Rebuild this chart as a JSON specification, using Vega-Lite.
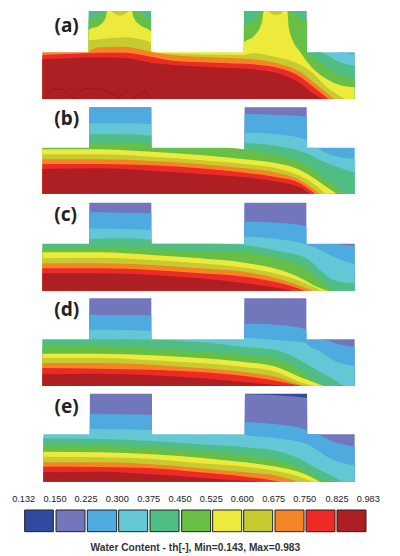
{"$schema":"https://vega.github.io/schema/vega-lite/v6.json","background":"white","padding":0,"spacing":0,"bounds":"flush","config":{"view":{"stroke":null},"area":{"interpolate":"monotone"}},
"datasets":{
"a":[
{"band":"0.225","x":1018,"y":157},{"band":"0.225","x":1064,"y":157},
{"band":"0.300","x":945,"y":157},{"band":"0.300","x":1018,"y":157},{"band":"0.300","x":1040,"y":160},{"band":"0.300","x":1064,"y":165},
{"band":"0.375","x":265,"y":297},{"band":"0.375","x":266,"y":33},{"band":"0.375","x":453,"y":33},{"band":"0.375","x":454,"y":297},{"band":"0.375","x":731,"y":297},{"band":"0.375","x":732,"y":33},{"band":"0.375","x":920,"y":33},{"band":"0.375","x":921,"y":157},{"band":"0.375","x":960,"y":157},{"band":"0.375","x":985,"y":168},{"band":"0.375","x":1020,"y":187},{"band":"0.375","x":1064,"y":197},
{"band":"0.450","x":265,"y":297},{"band":"0.450","x":266,"y":60},{"band":"0.450","x":295,"y":52},{"band":"0.450","x":312,"y":38},{"band":"0.450","x":318,"y":33},{"band":"0.450","x":412,"y":33},{"band":"0.450","x":430,"y":50},{"band":"0.450","x":453,"y":62},{"band":"0.450","x":454,"y":297},{"band":"0.450","x":731,"y":297},{"band":"0.450","x":732,"y":72},{"band":"0.450","x":755,"y":65},{"band":"0.450","x":775,"y":45},{"band":"0.450","x":778,"y":33},{"band":"0.450","x":868,"y":33},{"band":"0.450","x":885,"y":45},{"band":"0.450","x":905,"y":58},{"band":"0.450","x":920,"y":60},{"band":"0.450","x":921,"y":157},{"band":"0.450","x":945,"y":175},{"band":"0.450","x":985,"y":205},{"band":"0.450","x":1020,"y":225},{"band":"0.450","x":1064,"y":232},
{"band":"0.525","x":265,"y":297},{"band":"0.525","x":266,"y":90},{"band":"0.525","x":300,"y":75},{"band":"0.525","x":318,"y":50},{"band":"0.525","x":322,"y":33},{"band":"0.525","x":396,"y":33},{"band":"0.525","x":400,"y":50},{"band":"0.525","x":420,"y":75},{"band":"0.525","x":453,"y":95},{"band":"0.525","x":454,"y":157},{"band":"0.525","x":731,"y":157},{"band":"0.525","x":732,"y":127},{"band":"0.525","x":760,"y":110},{"band":"0.525","x":785,"y":70},{"band":"0.525","x":792,"y":33},{"band":"0.525","x":862,"y":33},{"band":"0.525","x":866,"y":80},{"band":"0.525","x":880,"y":125},{"band":"0.525","x":900,"y":155},{"band":"0.525","x":921,"y":185},{"band":"0.525","x":985,"y":240},{"band":"0.525","x":1020,"y":255},{"band":"0.525","x":1064,"y":262},
{"band":"0.600","x":265,"y":297},{"band":"0.600","x":266,"y":122},{"band":"0.600","x":300,"y":118},{"band":"0.600","x":375,"y":112},{"band":"0.600","x":420,"y":118},{"band":"0.600","x":453,"y":128},{"band":"0.600","x":454,"y":158},{"band":"0.600","x":560,"y":162},{"band":"0.600","x":732,"y":165},{"band":"0.600","x":760,"y":160},{"band":"0.600","x":830,"y":172},{"band":"0.600","x":880,"y":185},{"band":"0.600","x":930,"y":212},{"band":"0.600","x":985,"y":265},{"band":"0.600","x":1035,"y":297},
{"band":"0.675","x":127,"y":157},{"band":"0.675","x":265,"y":157},{"band":"0.675","x":266,"y":155},{"band":"0.675","x":300,"y":142},{"band":"0.675","x":375,"y":140},{"band":"0.675","x":420,"y":148},{"band":"0.675","x":453,"y":155},{"band":"0.675","x":520,"y":165},{"band":"0.675","x":640,"y":172},{"band":"0.675","x":760,"y":178},{"band":"0.675","x":850,"y":195},{"band":"0.675","x":900,"y":215},{"band":"0.675","x":950,"y":255},{"band":"0.675","x":1003,"y":297},
{"band":"0.750","x":127,"y":165},{"band":"0.750","x":200,"y":162},{"band":"0.750","x":300,"y":158},{"band":"0.750","x":375,"y":158},{"band":"0.750","x":453,"y":170},{"band":"0.750","x":520,"y":182},{"band":"0.750","x":640,"y":188},{"band":"0.750","x":760,"y":193},{"band":"0.750","x":850,"y":208},{"band":"0.750","x":900,"y":230},{"band":"0.750","x":945,"y":265},{"band":"0.750","x":985,"y":297},
{"band":"0.825","x":127,"y":178},{"band":"0.825","x":200,"y":175},{"band":"0.825","x":300,"y":172},{"band":"0.825","x":375,"y":174},{"band":"0.825","x":453,"y":188},{"band":"0.825","x":520,"y":195},{"band":"0.825","x":640,"y":202},{"band":"0.825","x":760,"y":208},{"band":"0.825","x":850,"y":225},{"band":"0.825","x":900,"y":250},{"band":"0.825","x":945,"y":285},{"band":"0.825","x":970,"y":297}
],
"b":[
{"band":"0.150","x":267,"y":281},{"band":"0.150","x":268,"y":22},{"band":"0.150","x":454,"y":22},{"band":"0.150","x":455,"y":281},{"band":"0.150","x":733,"y":281},{"band":"0.150","x":734,"y":22},{"band":"0.150","x":920,"y":22},{"band":"0.150","x":921,"y":281},
{"band":"0.225","x":267,"y":281},{"band":"0.225","x":268,"y":25},{"band":"0.225","x":454,"y":25},{"band":"0.225","x":455,"y":281},{"band":"0.225","x":733,"y":281},{"band":"0.225","x":734,"y":42},{"band":"0.225","x":830,"y":45},{"band":"0.225","x":920,"y":50},{"band":"0.225","x":921,"y":143},{"band":"0.225","x":1064,"y":143},
{"band":"0.300","x":267,"y":281},{"band":"0.300","x":268,"y":70},{"band":"0.300","x":360,"y":70},{"band":"0.300","x":454,"y":72},{"band":"0.300","x":455,"y":281},{"band":"0.300","x":733,"y":281},{"band":"0.300","x":734,"y":98},{"band":"0.300","x":830,"y":103},{"band":"0.300","x":920,"y":120},{"band":"0.300","x":921,"y":143},{"band":"0.300","x":945,"y":143},{"band":"0.300","x":980,"y":160},{"band":"0.300","x":1020,"y":172},{"band":"0.300","x":1064,"y":177},
{"band":"0.375","x":267,"y":281},{"band":"0.375","x":268,"y":103},{"band":"0.375","x":360,"y":103},{"band":"0.375","x":454,"y":107},{"band":"0.375","x":455,"y":281},{"band":"0.375","x":733,"y":281},{"band":"0.375","x":734,"y":130},{"band":"0.375","x":830,"y":138},{"band":"0.375","x":920,"y":160},{"band":"0.375","x":960,"y":180},{"band":"0.375","x":1064,"y":218},
{"band":"0.450","x":127,"y":143},{"band":"0.450","x":267,"y":143},{"band":"0.450","x":268,"y":128},{"band":"0.450","x":360,"y":128},{"band":"0.450","x":454,"y":135},{"band":"0.450","x":455,"y":143},{"band":"0.450","x":680,"y":143},{"band":"0.450","x":733,"y":148},{"band":"0.450","x":830,"y":165},{"band":"0.450","x":920,"y":195},{"band":"0.450","x":960,"y":225},{"band":"0.450","x":1000,"y":255},{"band":"0.450","x":1035,"y":281},
{"band":"0.525","x":127,"y":148},{"band":"0.525","x":300,"y":148},{"band":"0.525","x":400,"y":152},{"band":"0.525","x":454,"y":155},{"band":"0.525","x":600,"y":165},{"band":"0.525","x":734,"y":178},{"band":"0.525","x":830,"y":190},{"band":"0.525","x":900,"y":210},{"band":"0.525","x":950,"y":240},{"band":"0.525","x":985,"y":265},{"band":"0.525","x":1010,"y":281},
{"band":"0.600","x":127,"y":163},{"band":"0.600","x":300,"y":163},{"band":"0.600","x":454,"y":170},{"band":"0.600","x":600,"y":180},{"band":"0.600","x":734,"y":192},{"band":"0.600","x":830,"y":205},{"band":"0.600","x":900,"y":228},{"band":"0.600","x":950,"y":258},{"band":"0.600","x":975,"y":281},
{"band":"0.675","x":127,"y":178},{"band":"0.675","x":300,"y":178},{"band":"0.675","x":454,"y":183},{"band":"0.675","x":600,"y":192},{"band":"0.675","x":734,"y":205},{"band":"0.675","x":830,"y":218},{"band":"0.675","x":900,"y":240},{"band":"0.675","x":945,"y":270},{"band":"0.675","x":960,"y":281},
{"band":"0.750","x":127,"y":192},{"band":"0.750","x":300,"y":192},{"band":"0.750","x":454,"y":196},{"band":"0.750","x":600,"y":205},{"band":"0.750","x":734,"y":218},{"band":"0.750","x":830,"y":232},{"band":"0.750","x":900,"y":250},{"band":"0.750","x":930,"y":270},{"band":"0.750","x":945,"y":281},
{"band":"0.825","x":127,"y":207},{"band":"0.825","x":300,"y":205},{"band":"0.825","x":454,"y":212},{"band":"0.825","x":600,"y":222},{"band":"0.825","x":734,"y":232},{"band":"0.825","x":830,"y":245},{"band":"0.825","x":900,"y":262},{"band":"0.825","x":930,"y":281}
],
"c":[
{"band":"0.150","x":267,"y":287},{"band":"0.150","x":268,"y":23},{"band":"0.150","x":454,"y":23},{"band":"0.150","x":455,"y":287},{"band":"0.150","x":732,"y":287},{"band":"0.150","x":733,"y":23},{"band":"0.150","x":919,"y":23},{"band":"0.150","x":920,"y":287},{"band":"0.150","x":1004,"y":287},{"band":"0.150","x":1005,"y":146},{"band":"0.150","x":1064,"y":146},
{"band":"0.225","x":267,"y":287},{"band":"0.225","x":268,"y":52},{"band":"0.225","x":360,"y":53},{"band":"0.225","x":454,"y":55},{"band":"0.225","x":455,"y":287},{"band":"0.225","x":732,"y":287},{"band":"0.225","x":733,"y":80},{"band":"0.225","x":830,"y":83},{"band":"0.225","x":919,"y":93},{"band":"0.225","x":920,"y":146},{"band":"0.225","x":1005,"y":146},{"band":"0.225","x":1030,"y":150},{"band":"0.225","x":1064,"y":153},
{"band":"0.300","x":267,"y":287},{"band":"0.300","x":268,"y":100},{"band":"0.300","x":360,"y":102},{"band":"0.300","x":454,"y":105},{"band":"0.300","x":455,"y":146},{"band":"0.300","x":732,"y":146},{"band":"0.300","x":733,"y":125},{"band":"0.300","x":830,"y":132},{"band":"0.300","x":919,"y":148},{"band":"0.300","x":960,"y":165},{"band":"0.300","x":1010,"y":190},{"band":"0.300","x":1064,"y":208},
{"band":"0.375","x":127,"y":146},{"band":"0.375","x":267,"y":146},{"band":"0.375","x":268,"y":132},{"band":"0.375","x":360,"y":130},{"band":"0.375","x":454,"y":134},{"band":"0.375","x":455,"y":146},{"band":"0.375","x":640,"y":146},{"band":"0.375","x":733,"y":150},{"band":"0.375","x":830,"y":167},{"band":"0.375","x":919,"y":190},{"band":"0.375","x":1000,"y":255},{"band":"0.375","x":1064,"y":265},
{"band":"0.450","x":127,"y":158},{"band":"0.450","x":300,"y":158},{"band":"0.450","x":454,"y":160},{"band":"0.450","x":600,"y":172},{"band":"0.450","x":733,"y":172},{"band":"0.450","x":830,"y":190},{"band":"0.450","x":919,"y":222},{"band":"0.450","x":960,"y":255},{"band":"0.450","x":1005,"y":287},
{"band":"0.525","x":127,"y":172},{"band":"0.525","x":300,"y":172},{"band":"0.525","x":454,"y":180},{"band":"0.525","x":600,"y":190},{"band":"0.525","x":733,"y":203},{"band":"0.525","x":830,"y":222},{"band":"0.525","x":900,"y":248},{"band":"0.525","x":950,"y":275},{"band":"0.525","x":985,"y":287},
{"band":"0.600","x":127,"y":190},{"band":"0.600","x":300,"y":188},{"band":"0.600","x":454,"y":195},{"band":"0.600","x":600,"y":205},{"band":"0.600","x":733,"y":218},{"band":"0.600","x":830,"y":236},{"band":"0.600","x":900,"y":258},{"band":"0.600","x":965,"y":287},
{"band":"0.675","x":127,"y":205},{"band":"0.675","x":300,"y":205},{"band":"0.675","x":454,"y":210},{"band":"0.675","x":600,"y":220},{"band":"0.675","x":733,"y":230},{"band":"0.675","x":830,"y":250},{"band":"0.675","x":900,"y":272},{"band":"0.675","x":940,"y":287},
{"band":"0.750","x":127,"y":220},{"band":"0.750","x":300,"y":220},{"band":"0.750","x":454,"y":225},{"band":"0.750","x":600,"y":235},{"band":"0.750","x":733,"y":245},{"band":"0.750","x":830,"y":262},{"band":"0.750","x":915,"y":287},
{"band":"0.825","x":127,"y":235},{"band":"0.825","x":300,"y":235},{"band":"0.825","x":454,"y":240},{"band":"0.825","x":600,"y":250},{"band":"0.825","x":733,"y":265},{"band":"0.825","x":830,"y":278},{"band":"0.825","x":880,"y":287}
],
"d":[
{"band":"0.150","x":267,"y":282},{"band":"0.150","x":268,"y":19},{"band":"0.150","x":454,"y":19},{"band":"0.150","x":455,"y":282},{"band":"0.150","x":732,"y":282},{"band":"0.150","x":733,"y":19},{"band":"0.150","x":919,"y":19},{"band":"0.150","x":920,"y":282},{"band":"0.150","x":969,"y":282},{"band":"0.150","x":970,"y":142},{"band":"0.150","x":1064,"y":142},
{"band":"0.225","x":267,"y":282},{"band":"0.225","x":268,"y":68},{"band":"0.225","x":360,"y":69},{"band":"0.225","x":454,"y":70},{"band":"0.225","x":455,"y":282},{"band":"0.225","x":732,"y":282},{"band":"0.225","x":733,"y":95},{"band":"0.225","x":830,"y":98},{"band":"0.225","x":919,"y":112},{"band":"0.225","x":920,"y":142},{"band":"0.225","x":970,"y":142},{"band":"0.225","x":1010,"y":155},{"band":"0.225","x":1064,"y":165},
{"band":"0.300","x":267,"y":282},{"band":"0.300","x":268,"y":113},{"band":"0.300","x":360,"y":114},{"band":"0.300","x":454,"y":117},{"band":"0.300","x":455,"y":142},{"band":"0.300","x":732,"y":142},{"band":"0.300","x":733,"y":138},{"band":"0.300","x":830,"y":145},{"band":"0.300","x":919,"y":152},{"band":"0.300","x":920,"y":155},{"band":"0.300","x":960,"y":178},{"band":"0.300","x":1000,"y":205},{"band":"0.300","x":1064,"y":222},
{"band":"0.375","x":127,"y":142},{"band":"0.375","x":267,"y":142},{"band":"0.375","x":454,"y":143},{"band":"0.375","x":600,"y":150},{"band":"0.375","x":733,"y":165},{"band":"0.375","x":830,"y":175},{"band":"0.375","x":900,"y":205},{"band":"0.375","x":960,"y":240},{"band":"0.375","x":1000,"y":262},{"band":"0.375","x":1030,"y":282},
{"band":"0.450","x":127,"y":163},{"band":"0.450","x":300,"y":163},{"band":"0.450","x":454,"y":170},{"band":"0.450","x":600,"y":178},{"band":"0.450","x":733,"y":190},{"band":"0.450","x":830,"y":202},{"band":"0.450","x":900,"y":235},{"band":"0.450","x":950,"y":270},{"band":"0.450","x":990,"y":282},
{"band":"0.525","x":127,"y":185},{"band":"0.525","x":300,"y":185},{"band":"0.525","x":454,"y":190},{"band":"0.525","x":600,"y":198},{"band":"0.525","x":733,"y":210},{"band":"0.525","x":830,"y":225},{"band":"0.525","x":900,"y":255},{"band":"0.525","x":970,"y":282},
{"band":"0.600","x":127,"y":198},{"band":"0.600","x":300,"y":198},{"band":"0.600","x":454,"y":205},{"band":"0.600","x":600,"y":213},{"band":"0.600","x":733,"y":225},{"band":"0.600","x":830,"y":240},{"band":"0.600","x":900,"y":270},{"band":"0.600","x":945,"y":282},
{"band":"0.675","x":127,"y":213},{"band":"0.675","x":300,"y":213},{"band":"0.675","x":454,"y":218},{"band":"0.675","x":600,"y":228},{"band":"0.675","x":733,"y":240},{"band":"0.675","x":830,"y":255},{"band":"0.675","x":900,"y":278},{"band":"0.675","x":925,"y":282},
{"band":"0.750","x":127,"y":228},{"band":"0.750","x":300,"y":230},{"band":"0.750","x":454,"y":233},{"band":"0.750","x":600,"y":240},{"band":"0.750","x":733,"y":252},{"band":"0.750","x":830,"y":267},{"band":"0.750","x":905,"y":282},
{"band":"0.825","x":127,"y":247},{"band":"0.825","x":300,"y":245},{"band":"0.825","x":454,"y":250},{"band":"0.825","x":600,"y":258},{"band":"0.825","x":733,"y":270},{"band":"0.825","x":860,"y":282}
],
"e":[
{"band":"0.132","x":734,"y":290},{"band":"0.132","x":735,"y":26},{"band":"0.132","x":921,"y":26},{"band":"0.132","x":922,"y":290},
{"band":"0.150","x":269,"y":290},{"band":"0.150","x":270,"y":26},{"band":"0.150","x":456,"y":26},{"band":"0.150","x":457,"y":290},{"band":"0.150","x":734,"y":290},{"band":"0.150","x":735,"y":28},{"band":"0.150","x":921,"y":38},{"band":"0.150","x":922,"y":148},{"band":"0.150","x":1064,"y":148},
{"band":"0.225","x":269,"y":290},{"band":"0.225","x":270,"y":87},{"band":"0.225","x":456,"y":89},{"band":"0.225","x":457,"y":290},{"band":"0.225","x":734,"y":290},{"band":"0.225","x":735,"y":112},{"band":"0.225","x":830,"y":118},{"band":"0.225","x":921,"y":135},{"band":"0.225","x":922,"y":148},{"band":"0.225","x":945,"y":148},{"band":"0.225","x":1000,"y":170},{"band":"0.225","x":1064,"y":185},
{"band":"0.300","x":130,"y":148},{"band":"0.300","x":269,"y":148},{"band":"0.300","x":270,"y":132},{"band":"0.300","x":456,"y":135},{"band":"0.300","x":457,"y":148},{"band":"0.300","x":734,"y":148},{"band":"0.300","x":735,"y":150},{"band":"0.300","x":830,"y":160},{"band":"0.300","x":921,"y":178},{"band":"0.300","x":1000,"y":225},{"band":"0.300","x":1064,"y":242},
{"band":"0.375","x":130,"y":160},{"band":"0.375","x":300,"y":162},{"band":"0.375","x":456,"y":168},{"band":"0.375","x":600,"y":178},{"band":"0.375","x":735,"y":187},{"band":"0.375","x":830,"y":198},{"band":"0.375","x":900,"y":222},{"band":"0.375","x":950,"y":250},{"band":"0.375","x":1000,"y":275},{"band":"0.375","x":1030,"y":290},
{"band":"0.450","x":130,"y":182},{"band":"0.450","x":300,"y":182},{"band":"0.450","x":456,"y":188},{"band":"0.450","x":600,"y":198},{"band":"0.450","x":735,"y":212},{"band":"0.450","x":830,"y":225},{"band":"0.450","x":900,"y":248},{"band":"0.450","x":950,"y":278},{"band":"0.450","x":1000,"y":290},
{"band":"0.525","x":130,"y":200},{"band":"0.525","x":300,"y":202},{"band":"0.525","x":456,"y":208},{"band":"0.525","x":600,"y":218},{"band":"0.525","x":735,"y":232},{"band":"0.525","x":830,"y":245},{"band":"0.525","x":900,"y":262},{"band":"0.525","x":960,"y":290},
{"band":"0.600","x":130,"y":215},{"band":"0.600","x":300,"y":217},{"band":"0.600","x":456,"y":222},{"band":"0.600","x":600,"y":235},{"band":"0.600","x":735,"y":245},{"band":"0.600","x":830,"y":258},{"band":"0.600","x":900,"y":275},{"band":"0.600","x":940,"y":290},
{"band":"0.675","x":130,"y":232},{"band":"0.675","x":300,"y":232},{"band":"0.675","x":456,"y":238},{"band":"0.675","x":600,"y":250},{"band":"0.675","x":735,"y":262},{"band":"0.675","x":830,"y":272},{"band":"0.675","x":895,"y":290},
{"band":"0.750","x":130,"y":245},{"band":"0.750","x":300,"y":246},{"band":"0.750","x":456,"y":250},{"band":"0.750","x":600,"y":262},{"band":"0.750","x":735,"y":275},{"band":"0.750","x":840,"y":290},
{"band":"0.825","x":130,"y":262},{"band":"0.825","x":300,"y":260},{"band":"0.825","x":456,"y":268},{"band":"0.825","x":600,"y":278},{"band":"0.825","x":700,"y":285},{"band":"0.825","x":790,"y":290}
]},
"vconcat":[
{"width":400,"height":100,"layer":[
{"data":{"name":"a"},"mark":{"type":"area","orient":"vertical"},"encoding":{"x":{"field":"x","type":"quantitative","scale":{"domain":[0,1200],"nice":false},"axis":null},"y":{"field":"y","type":"quantitative","scale":{"domain":[300,0],"nice":false,"zero":false},"axis":null},"y2":{"datum":297},"color":{"field":"band","type":"nominal","legend":null,"scale":{"domain":["0.132","0.150","0.225","0.300","0.375","0.450","0.525","0.600","0.675","0.750","0.825"],"range":["#2f4a9e","#7276bb","#4faae0","#63c7d6","#4fbd84","#68bf45","#eeea3c","#c6cb32","#f48524","#ed2a26","#ae1f23"]}}}},
{"data":{"values":[{"band":"0.600","x":335,"y":33},{"band":"0.600","x":345,"y":42},{"band":"0.600","x":360,"y":47},{"band":"0.600","x":375,"y":42},{"band":"0.600","x":385,"y":33}]},"mark":{"type":"area","orient":"vertical"},"encoding":{"x":{"field":"x","type":"quantitative"},"y":{"field":"y","type":"quantitative"},"y2":{"datum":33},"color":{"field":"band","type":"nominal"}}},
{"data":{"values":[{"band":"0.600","x":805,"y":33},{"band":"0.600","x":815,"y":42},{"band":"0.600","x":828,"y":45},{"band":"0.600","x":842,"y":42},{"band":"0.600","x":850,"y":33}]},"mark":{"type":"area","orient":"vertical"},"encoding":{"x":{"field":"x","type":"quantitative"},"y":{"field":"y","type":"quantitative"},"y2":{"datum":33},"color":{"field":"band","type":"nominal"}}},
{"data":{"values":[{"x":130,"y":295},{"x":160,"y":268},{"x":190,"y":268},{"x":220,"y":295},{"x":250,"y":265},{"x":310,"y":268},{"x":360,"y":295},{"x":380,"y":270},{"x":405,"y":295},{"x":435,"y":270},{"x":450,"y":295}]},"mark":{"type":"line","color":"#7d1518","strokeWidth":0.6},"encoding":{"x":{"field":"x","type":"quantitative"},"y":{"field":"y","type":"quantitative"}}},
{"data":{"values":[{"label":"(a)","x":200,"y":77}]},"mark":{"type":"text","font":"Noto Sans","fontWeight":"bold","fontSize":19,"color":"#222222"},"encoding":{"x":{"field":"x","type":"quantitative"},"y":{"field":"y","type":"quantitative"},"text":{"field":"label"}}}
]},
{"width":400,"height":95,"layer":[
{"data":{"name":"b"},"mark":{"type":"area","orient":"vertical"},"encoding":{"x":{"field":"x","type":"quantitative","scale":{"domain":[0,1200],"nice":false},"axis":null},"y":{"field":"y","type":"quantitative","scale":{"domain":[285,0],"nice":false,"zero":false},"axis":null},"y2":{"datum":281},"color":{"field":"band","type":"nominal","legend":null,"scale":{"domain":["0.132","0.150","0.225","0.300","0.375","0.450","0.525","0.600","0.675","0.750","0.825"],"range":["#2f4a9e","#7276bb","#4faae0","#63c7d6","#4fbd84","#68bf45","#eeea3c","#c6cb32","#f48524","#ed2a26","#ae1f23"]}}}},
{"data":{"values":[{"label":"(b)","x":200,"y":57}]},"mark":{"type":"text","font":"Noto Sans","fontWeight":"bold","fontSize":19,"color":"#222222"},"encoding":{"x":{"field":"x","type":"quantitative"},"y":{"field":"y","type":"quantitative"},"text":{"field":"label"}}}
]},
{"width":400,"height":97,"layer":[
{"data":{"name":"c"},"mark":{"type":"area","orient":"vertical"},"encoding":{"x":{"field":"x","type":"quantitative","scale":{"domain":[0,1200],"nice":false},"axis":null},"y":{"field":"y","type":"quantitative","scale":{"domain":[291,0],"nice":false,"zero":false},"axis":null},"y2":{"datum":287},"color":{"field":"band","type":"nominal","legend":null,"scale":{"domain":["0.132","0.150","0.225","0.300","0.375","0.450","0.525","0.600","0.675","0.750","0.825"],"range":["#2f4a9e","#7276bb","#4faae0","#63c7d6","#4fbd84","#68bf45","#eeea3c","#c6cb32","#f48524","#ed2a26","#ae1f23"]}}}},
{"data":{"values":[{"label":"(c)","x":197,"y":60}]},"mark":{"type":"text","font":"Noto Sans","fontWeight":"bold","fontSize":19,"color":"#222222"},"encoding":{"x":{"field":"x","type":"quantitative"},"y":{"field":"y","type":"quantitative"},"text":{"field":"label"}}}
]},
{"width":400,"height":95,"layer":[
{"data":{"name":"d"},"mark":{"type":"area","orient":"vertical"},"encoding":{"x":{"field":"x","type":"quantitative","scale":{"domain":[0,1200],"nice":false},"axis":null},"y":{"field":"y","type":"quantitative","scale":{"domain":[285,0],"nice":false,"zero":false},"axis":null},"y2":{"datum":282},"color":{"field":"band","type":"nominal","legend":null,"scale":{"domain":["0.132","0.150","0.225","0.300","0.375","0.450","0.525","0.600","0.675","0.750","0.825"],"range":["#2f4a9e","#7276bb","#4faae0","#63c7d6","#4fbd84","#68bf45","#eeea3c","#c6cb32","#f48524","#ed2a26","#ae1f23"]}}}},
{"data":{"values":[{"label":"(d)","x":200,"y":55}]},"mark":{"type":"text","font":"Noto Sans","fontWeight":"bold","fontSize":19,"color":"#222222"},"encoding":{"x":{"field":"x","type":"quantitative"},"y":{"field":"y","type":"quantitative"},"text":{"field":"label"}}}
]},
{"width":400,"height":98,"layer":[
{"data":{"name":"e"},"mark":{"type":"area","orient":"vertical"},"encoding":{"x":{"field":"x","type":"quantitative","scale":{"domain":[0,1200],"nice":false},"axis":null},"y":{"field":"y","type":"quantitative","scale":{"domain":[300,6],"nice":false,"zero":false},"axis":null},"y2":{"datum":290},"color":{"field":"band","type":"nominal","legend":null,"scale":{"domain":["0.132","0.150","0.225","0.300","0.375","0.450","0.525","0.600","0.675","0.750","0.825"],"range":["#2f4a9e","#7276bb","#4faae0","#63c7d6","#4fbd84","#68bf45","#eeea3c","#c6cb32","#f48524","#ed2a26","#ae1f23"]}}}},
{"data":{"values":[{"label":"(e)","x":200,"y":65}]},"mark":{"type":"text","font":"Noto Sans","fontWeight":"bold","fontSize":19,"color":"#222222"},"encoding":{"x":{"field":"x","type":"quantitative"},"y":{"field":"y","type":"quantitative"},"text":{"field":"label"}}}
]},
{"width":400,"height":71,"layer":[
{"data":{"values":[{"band":"0.132","from":74,"to":160},{"band":"0.150","from":168,"to":255},{"band":"0.225","from":262,"to":350},{"band":"0.300","from":356,"to":443},{"band":"0.375","from":450,"to":537},{"band":"0.450","from":545,"to":632},{"band":"0.525","from":638,"to":725},{"band":"0.600","from":731,"to":818},{"band":"0.675","from":825,"to":912},{"band":"0.750","from":918,"to":1005},{"band":"0.825","from":1011,"to":1098}]},"mark":{"type":"rect","stroke":"#222222","strokeWidth":1},"encoding":{"x":{"field":"from","type":"quantitative","scale":{"domain":[0,1200],"nice":false},"axis":null},"x2":{"field":"to"},"y":{"datum":75,"type":"quantitative","scale":{"domain":[213,0],"nice":false,"zero":false},"axis":null},"y2":{"datum":140},"color":{"field":"band","type":"nominal","legend":null,"scale":{"domain":["0.132","0.150","0.225","0.300","0.375","0.450","0.525","0.600","0.675","0.750","0.825"],"range":["#2f4a9e","#7276bb","#4faae0","#63c7d6","#4fbd84","#68bf45","#eeea3c","#c6cb32","#f48524","#ed2a26","#ae1f23"]}}}},
{"data":{"values":[{"level":"0.132","x":71},{"level":"0.150","x":165},{"level":"0.225","x":258},{"level":"0.300","x":352},{"level":"0.375","x":446},{"level":"0.450","x":540},{"level":"0.525","x":634},{"level":"0.600","x":727},{"level":"0.675","x":821},{"level":"0.750","x":914},{"level":"0.825","x":1011},{"level":"0.983","x":1105}]},"mark":{"type":"text","font":"Liberation Sans","fontSize":9.2,"color":"#222222"},"encoding":{"x":{"field":"x","type":"quantitative"},"y":{"datum":42,"type":"quantitative"},"text":{"field":"level"}}},
{"data":{"values":[{"title":"Water Content  - th[-], Min=0.143, Max=0.983","x":586}]},"mark":{"type":"text","font":"Liberation Sans","fontWeight":"bold","fontSize":10.2,"color":"#333333"},"encoding":{"x":{"field":"x","type":"quantitative"},"y":{"datum":190,"type":"quantitative"},"text":{"field":"title"}}}
]}
]}
